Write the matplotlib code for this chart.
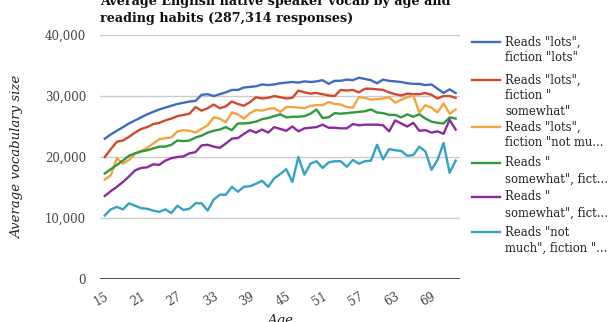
import matplotlib
matplotlib.use("Agg")
import matplotlib.pyplot as plt
from matplotlib.lines import Line2D
import numpy as np

ages = np.arange(15, 74)
tick_ages = [15, 21, 27, 33, 39, 45, 51, 57, 63, 69]

lots_lots = [23000, 23700, 24300, 24900, 25500, 26000, 26500, 27000, 27400, 27800,
             28100, 28400, 28700, 28900, 29100, 29200, 30200, 30300, 30000, 30300,
             30600, 31000, 31000, 31400, 31500, 31600, 31900, 31800, 31900, 32100,
             32200, 32300, 32200, 32400, 32300, 32400, 32600, 32000, 32500, 32500,
             32700, 32600, 33000, 32800, 32600, 32100, 32700, 32500, 32400, 32300,
             32100, 32000, 32000, 31800, 31900, 31200, 30500, 31100, 30500]
lots_somewhat = [20000, 21300, 22500, 22700, 23300, 24000, 24600, 24900, 25400, 25600,
                 26000, 26300, 26700, 26900, 27100, 28200, 27600, 28000, 28600, 28000,
                 28300, 29100, 28700, 28400, 29000, 29800, 29600, 29700, 30000, 29800,
                 29600, 29700, 30900, 30600, 30400, 30500, 30300, 30100, 30000, 31000,
                 30900, 31000, 30600, 31200, 31200, 31100, 31000, 30600, 30300, 30100,
                 30400, 30300, 30300, 30500, 30200, 29600, 30000, 30000, 29700]
lots_notmuch = [16300, 17000, 19800, 18900, 19500, 20500, 21000, 21500, 22200, 22900,
                23100, 23200, 24200, 24400, 24300, 24000, 24600, 25200, 26500, 26300,
                25700, 27300, 27000, 26300, 27200, 27700, 27600, 27900, 28000, 27400,
                28200, 28200, 28100, 28000, 28400, 28500, 28500, 29000, 28700, 28600,
                28200, 28100, 29800, 29700, 29400, 29500, 29600, 29800, 28900, 29400,
                29800, 30100, 27300, 28500, 28100, 27300, 28800, 27100, 27800]
somewhat_a = [17300, 18000, 18700, 19400, 20200, 20600, 20900, 21100, 21400, 21700,
              21700, 22000, 22700, 22600, 22700, 23200, 23500, 24000, 24300, 24500,
              24900, 24400, 25500, 25500, 25600, 25800, 26200, 26400, 26700, 27000,
              26500, 26600, 26600, 26700, 27100, 27800, 26400, 26500, 27200, 27100,
              27200, 27300, 27400, 27500, 27800, 27300, 27200, 26900, 26900, 26500,
              27000, 26600, 27000, 26300, 25800, 25600, 25500, 26500, 26300]
somewhat_b = [13600, 14400, 15100, 15900, 16800, 17800, 18200, 18300, 18800, 18700,
              19400, 19800, 20000, 20100, 20600, 20800, 21900, 22000, 21700, 21500,
              22200, 23000, 23100, 23800, 24400, 24000, 24500, 24000, 24900, 24600,
              24300, 25000, 24200, 24700, 24800, 24900, 25300, 24800, 24800, 24700,
              24700, 25400, 25200, 25300, 25300, 25300, 25200, 24200, 26000, 25500,
              25000, 25600, 24300, 24400, 24000, 24200, 23800, 26100, 24500]
notmuch = [10400, 11400, 11800, 11400, 12400, 12000, 11600, 11500, 11200, 11000,
           11400, 10800, 12000, 11300, 11500, 12400, 12400, 11200, 13000, 13800,
           13800, 15100, 14300, 15100, 15200, 15600, 16100, 15100, 16500, 17200,
           18000, 15900, 20000, 17100, 18900, 19300, 18200, 19100, 19300, 19300,
           18400, 19500, 18900, 19300, 19400, 22000, 19600, 21300, 21100, 21000,
           20200, 20300, 21700, 20900, 17900, 19500, 22300, 17400, 19400]

series = [lots_lots, lots_somewhat, lots_notmuch, somewhat_a, somewhat_b, notmuch]
labels = [['Reads "lots",', 'fiction "lots"'],
          ['Reads "lots",', 'fiction "', 'somewhat"'],
          ['Reads "lots",', 'fiction "not mu...'],
          ['Reads "', 'somewhat", fict...'],
          ['Reads "', 'somewhat", fict...'],
          ['Reads "not', 'much", fiction "...']]
colors = ["#3e6bc4", "#d3482c", "#f3a43e", "#2f9a38", "#8d2a9e", "#35a2c3"]

serif = "DejaVu Serif"
W, H = 614, 322

fig = plt.figure(figsize=(W / 100, H / 100), dpi=100)
ax = fig.add_axes([0.163, 0.134, 0.586, 0.757])

for vals, col in zip(series, colors):
    ax.plot(ages, vals, color=col, lw=1.7, solid_joinstyle="round")

ax.set_xlim(14.22, 73.7)
ax.set_ylim(0, 40000)
ax.set_yticks([0, 10000, 20000, 30000, 40000])
ax.set_yticklabels(["0", "10,000", "20,000", "30,000", "40,000"],
                   family=serif, fontsize=8.5, color="#444444")
ax.set_xticks(tick_ages)
ax.set_xticklabels([str(a) for a in tick_ages], family=serif, fontsize=8.5,
                   color="#444444", rotation=30, ha="right", rotation_mode="anchor")
ax.tick_params(axis="y", length=0, pad=10)
ax.tick_params(axis="x", length=0, pad=8)

ax.grid(axis="y", color="#cccccc", lw=1)
ax.set_axisbelow(True)
for s in ax.spines.values():
    s.set_visible(False)
ax.axhline(0, color="#333333", lw=1.2)

ax.set_ylabel("Average vocabulary size", family=serif, style="italic",
              fontsize=9.5, color="#222222", labelpad=15)
ax.set_xlabel("Age", family=serif, style="italic", fontsize=9.5,
              color="#222222", labelpad=4)

fig.text(100 / W, 1 - 25 / H,
         "Average English native speaker vocab by age and\nreading habits (287,314 responses)",
         family=serif, weight="bold", fontsize=9.2, color="#111111",
         ha="left", va="bottom", linespacing=1.45)

# legend drawn by hand so the swatch sits on the first text line
entry_y = [42, 80, 127, 163, 197, 232]
line_h = 15.8
for lines, col, y0 in zip(labels, colors, entry_y):
    fig.add_artist(Line2D([472 / W, 500 / W], [1 - y0 / H] * 2, color=col, lw=1.7))
    for j, txt in enumerate(lines):
        fig.text(505 / W, 1 - (y0 + j * line_h) / H, txt, family=serif,
                 fontsize=8.4, color="#222222", ha="left", va="center")

fig.savefig("out.png", dpi=100)
